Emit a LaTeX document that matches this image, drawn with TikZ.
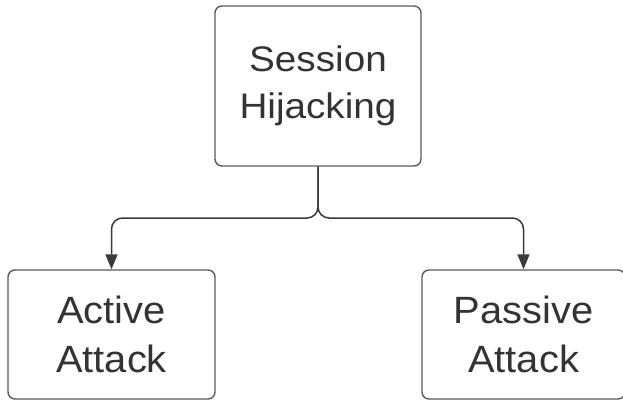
\documentclass[tikz,border=0pt]{standalone}
\usepackage{fontspec}
\setmainfont{Liberation Sans}
\newfontfamily\topfont[FakeStretch=1.09]{Liberation Sans}
\newfontfamily\botfont[FakeStretch=1.05]{Liberation Sans}
\usetikzlibrary{arrows.meta}
\definecolor{boxline}{HTML}{5A5A5A}
\definecolor{txt}{HTML}{333333}
\definecolor{conn}{HTML}{3A3A3A}
\tikzset{
  box/.style={draw=boxline, line width=1.4pt, rounded corners=7pt, fill=white,
    text=txt, align=center, inner sep=0pt},
  topbox/.style={box, font=\topfont\fontsize{35.5}{46.7}\selectfont},
  botbox/.style={box, font=\botfont\fontsize{38}{48.3}\selectfont},
  conn/.style={draw=conn, line width=1.5pt, rounded corners=11pt,
    -{Triangle[length=15pt,width=12pt]}}
}
\begin{document}
\begin{tikzpicture}[x=1pt,y=-1pt]
\useasboundingbox (0,0) rectangle (623,401);
\clip (0,0) rectangle (623,401);
\node[topbox, minimum width=206pt, minimum height=160pt] (top) at (318,86) {Session\\Hijacking};
\node[botbox, minimum width=207pt, minimum height=129pt] (left) at (111.5,334.5) {Active\\Attack};
\node[botbox, minimum width=203pt, minimum height=129pt] (right) at (523.5,334.5) {Passive\\Attack};
\coordinate (j) at (318,218);
\draw[conn] (top.south) -- (j) -| (left.north);
\draw[conn] (top.south) -- (j) -| (right.north);
\end{tikzpicture}
\end{document}
